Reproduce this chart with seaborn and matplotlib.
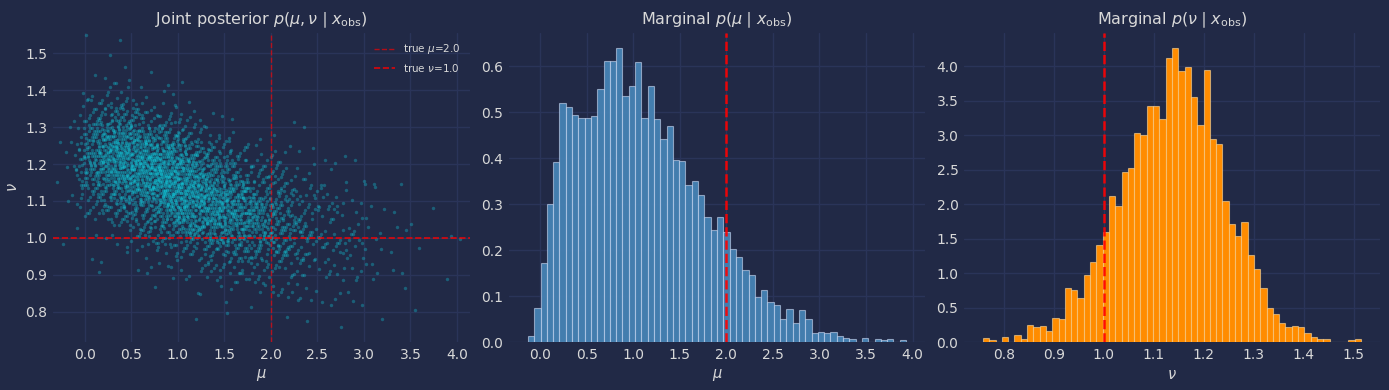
import numpy as np
import pandas as pd
import matplotlib
matplotlib.use("Agg")
import matplotlib.pyplot as plt
import seaborn as sns

# ---------------- data ----------------
true_mu = 2.0
true_nu = 1.0

# marginal histogram of mu (density, 60 bins between mu_lo and mu_hi)
mu_lo, mu_hi = -0.13, 3.93
mu_density = [0.013, 0.074, 0.172, 0.301, 0.392, 0.519, 0.511, 0.494, 0.487, 0.487,
              0.492, 0.551, 0.612, 0.612, 0.640, 0.535, 0.557, 0.609, 0.487, 0.556,
              0.485, 0.442, 0.470, 0.396, 0.394, 0.341, 0.350, 0.319, 0.271, 0.243,
              0.271, 0.240, 0.203, 0.184, 0.157, 0.145, 0.098, 0.113, 0.086, 0.080,
              0.050, 0.071, 0.041, 0.069, 0.049, 0.019, 0.021, 0.020, 0.021, 0.013,
              0.008, 0.007, 0.0, 0.008, 0.0, 0.006, 0.005, 0.006, 0.0, 0.004]

# marginal histogram of nu (density, 60 bins between nu_lo and nu_hi)
nu_lo, nu_hi = 0.758, 1.515
nu_density = [0.058, 0.030, 0.0, 0.073, 0.0, 0.100, 0.044, 0.247, 0.213, 0.228,
              0.160, 0.349, 0.334, 0.785, 0.755, 0.639, 0.969, 1.157, 1.409, 1.598,
              2.121, 1.971, 2.465, 2.528, 3.031, 3.002, 3.424, 3.424, 3.235, 4.116,
              4.266, 3.932, 3.990, 3.554, 3.148, 3.937, 2.949, 2.877, 2.044, 1.714,
              1.535, 1.738, 1.259, 1.061, 0.785, 0.494, 0.412, 0.271, 0.213, 0.228,
              0.213, 0.126, 0.068, 0.039, 0.039, 0.0, 0.0, 0.0, 0.024, 0.039]

# joint posterior samples, counted on a grid read off the scatter
# columns: mu cells starting at joint_mu_edges[i] (width 0.25)
# rows:    nu cells starting at joint_nu_edges[j] (width 0.05)
joint_mu_edges = [-0.25, 0.0, 0.25, 0.5, 0.75, 1.0, 1.25, 1.5, 1.75, 2.0,
                  2.25, 2.5, 2.75, 3.0, 3.25, 3.5, 3.75]
joint_nu_edges = [0.75, 0.80, 0.85, 0.90, 0.95, 1.00, 1.05, 1.10, 1.15, 1.20,
                  1.25, 1.30, 1.35, 1.40, 1.45, 1.50]
joint_counts = [  # one list per mu column, counts per nu row (low -> high)
    [0, 0, 0, 0, 0, 1, 1, 3, 4, 4, 3, 1, 1, 0, 0, 0],
    [0, 0, 0, 1, 2, 4, 12, 28, 50, 62, 48, 24, 8, 2, 0, 1],
    [0, 0, 0, 1, 3, 8, 22, 48, 80, 92, 70, 35, 12, 3, 0, 2],
    [0, 0, 1, 2, 5, 14, 35, 70, 95, 88, 52, 20, 6, 2, 0, 0],
    [0, 0, 1, 3, 10, 30, 62, 102, 108, 78, 38, 13, 4, 1, 0, 0],
    [0, 1, 2, 6, 18, 45, 80, 100, 85, 48, 20, 6, 1, 0, 0, 0],
    [0, 1, 3, 9, 25, 55, 80, 75, 52, 25, 9, 3, 0, 0, 0, 0],
    [0, 1, 4, 12, 30, 55, 67, 55, 30, 12, 4, 0, 0, 0, 0, 0],
    [0, 2, 5, 14, 30, 45, 45, 30, 15, 7, 2, 0, 0, 0, 0, 0],
    [1, 2, 6, 13, 25, 32, 28, 18, 11, 5, 1, 0, 0, 0, 0, 0],
    [1, 2, 5, 9, 15, 18, 14, 10, 5, 2, 1, 0, 0, 0, 0, 0],
    [1, 2, 4, 6, 9, 10, 8, 5, 3, 1, 0, 0, 0, 0, 0, 0],
    [1, 1, 3, 6, 7, 7, 6, 3, 2, 1, 0, 0, 0, 0, 0, 0],
    [1, 0, 1, 3, 3, 3, 2, 1, 1, 0, 0, 0, 0, 0, 0, 0],
    [0, 0, 1, 1, 1, 1, 1, 1, 0, 0, 0, 0, 0, 0, 0, 0],
    [0, 1, 1, 0, 1, 0, 1, 0, 0, 0, 0, 0, 0, 0, 0, 0],
    [0, 0, 1, 0, 1, 1, 0, 0, 0, 0, 0, 0, 0, 0, 0, 0],
]

# ---------------- style ----------------
BG = "#212946"
GRID = "#2A3459"
TXT = "#d8d8d8"
sns.set_style("darkgrid")
plt.rcParams.update({
    "figure.facecolor": BG,
    "axes.facecolor": BG,
    "savefig.facecolor": BG,
    "axes.edgecolor": BG,
    "axes.grid": True,
    "grid.color": GRID,
    "grid.linewidth": 1.0,
    "text.color": TXT,
    "axes.labelcolor": TXT,
    "xtick.color": TXT,
    "ytick.color": TXT,
    "xtick.labelsize": 10,
    "ytick.labelsize": 10,
    "axes.titlesize": 11.5,
    "axes.labelsize": 10.5,
})
plt.rcParams["font.family"] = ["DejaVu Sans"]

# ---------------- build point table for the joint scatter ----------------
# the points of each grid cell are laid out around the cell centre with a
# tent-shaped (linear-interpolation) spread so the cell borders do not show
cell_w, cell_h = 0.25, 0.05
phi4 = 1.1673039782614187
a1, a2, a3, a4 = (1 / phi4, 1 / phi4 ** 2, 1 / phi4 ** 3, 1 / phi4 ** 4)
mus, nus = [], []
k = 0
for i, col in enumerate(joint_counts):
    for j, c in enumerate(col):
        cx = joint_mu_edges[i] + 0.5 * cell_w
        cy = joint_nu_edges[j] + 0.5 * cell_h
        for _ in range(c):
            k += 1
            u1 = (0.5 + k * a1) % 1.0
            u2 = (0.5 + k * a2) % 1.0
            u3 = (0.5 + k * a3) % 1.0
            u4 = (0.5 + k * a4) % 1.0
            mus.append(cx + cell_w * (u1 + u2 - 1.0))
            nus.append(cy + cell_h * (u3 + u4 - 1.0))
joint = pd.DataFrame({"mu": mus, "nu": nus})

mu_edges = [float(v) for v in np.linspace(mu_lo, mu_hi, len(mu_density) + 1)]
nu_edges = [float(v) for v in np.linspace(nu_lo, nu_hi, len(nu_density) + 1)]
mu_df = pd.DataFrame({"x": [0.5 * (a + b) for a, b in zip(mu_edges[:-1], mu_edges[1:])],
                      "w": mu_density})
nu_df = pd.DataFrame({"x": [0.5 * (a + b) for a, b in zip(nu_edges[:-1], nu_edges[1:])],
                      "w": nu_density})

# ---------------- figure ----------------
fig = plt.figure(figsize=(13.89, 3.90), dpi=100)
ax1 = fig.add_axes([53 / 1389, 48 / 390, 417 / 1389, 309 / 390])
ax2 = fig.add_axes([509 / 1389, 48 / 390, 416 / 1389, 309 / 390])
ax3 = fig.add_axes([964 / 1389, 48 / 390, 416 / 1389, 309 / 390])

# joint scatter
sns.scatterplot(data=joint, x="mu", y="nu", ax=ax1, s=6, color="#10d0e0",
                alpha=0.33, linewidth=0, legend=False)
ax1.axvline(true_mu, color="red", ls="--", lw=1.0, alpha=0.65, label=r"true $\mu$=2.0")
ax1.axhline(true_nu, color="red", ls="--", lw=1.2, alpha=0.85, label=r"true $\nu$=1.0")
ax1.set_xlim(-0.34, 4.14)
ax1.set_ylim(0.718, 1.555)
ax1.set_xticks([0.0, 0.5, 1.0, 1.5, 2.0, 2.5, 3.0, 3.5, 4.0])
ax1.set_yticks([0.8, 0.9, 1.0, 1.1, 1.2, 1.3, 1.4, 1.5])
ax1.set_xlabel(r"$\mu$")
ax1.set_ylabel(r"$\nu$")
ax1.set_title(r"Joint posterior $p(\mu, \nu \mid x_{\mathrm{obs}})$")
leg = ax1.legend(loc="upper right", fontsize=7.5, frameon=False)
for t in leg.get_texts():
    t.set_color(TXT)

# marginal mu
sns.histplot(data=mu_df, x="x", weights="w", bins=mu_edges, ax=ax2,
             color="#4682b4", alpha=0.95, edgecolor=(0.85, 0.9, 1.0, 0.55), linewidth=0.8)
ax2.axvline(true_mu, color="red", ls="--", lw=1.8, alpha=0.9)
ax2.set_xticks([0.0, 0.5, 1.0, 1.5, 2.0, 2.5, 3.0, 3.5, 4.0])
ax2.set_yticks([0.0, 0.1, 0.2, 0.3, 0.4, 0.5, 0.6])
ax2.set_xlabel(r"$\mu$")
ax2.set_ylabel("")
ax2.set_title(r"Marginal $p(\mu \mid x_{\mathrm{obs}})$")

# marginal nu
sns.histplot(data=nu_df, x="x", weights="w", bins=nu_edges, ax=ax3,
             color="#ff8c00", alpha=1.0, edgecolor=(1.0, 0.85, 0.6, 0.6), linewidth=0.8)
ax3.axvline(true_nu, color="red", ls="--", lw=1.8, alpha=0.9)
ax3.set_xticks([0.8, 0.9, 1.0, 1.1, 1.2, 1.3, 1.4, 1.5])
ax3.set_yticks([0.0, 0.5, 1.0, 1.5, 2.0, 2.5, 3.0, 3.5, 4.0])
ax3.set_xlabel(r"$\nu$")
ax3.set_ylabel("")
ax3.set_title(r"Marginal $p(\nu \mid x_{\mathrm{obs}})$")

for ax in (ax1, ax2, ax3):
    for sp in ax.spines.values():
        sp.set_visible(False)
    ax.tick_params(length=0, pad=4)
    ax.grid(True, color=GRID, lw=1.0)
    ax.set_axisbelow(True)

fig.savefig("out.png", dpi=100, facecolor=BG)
